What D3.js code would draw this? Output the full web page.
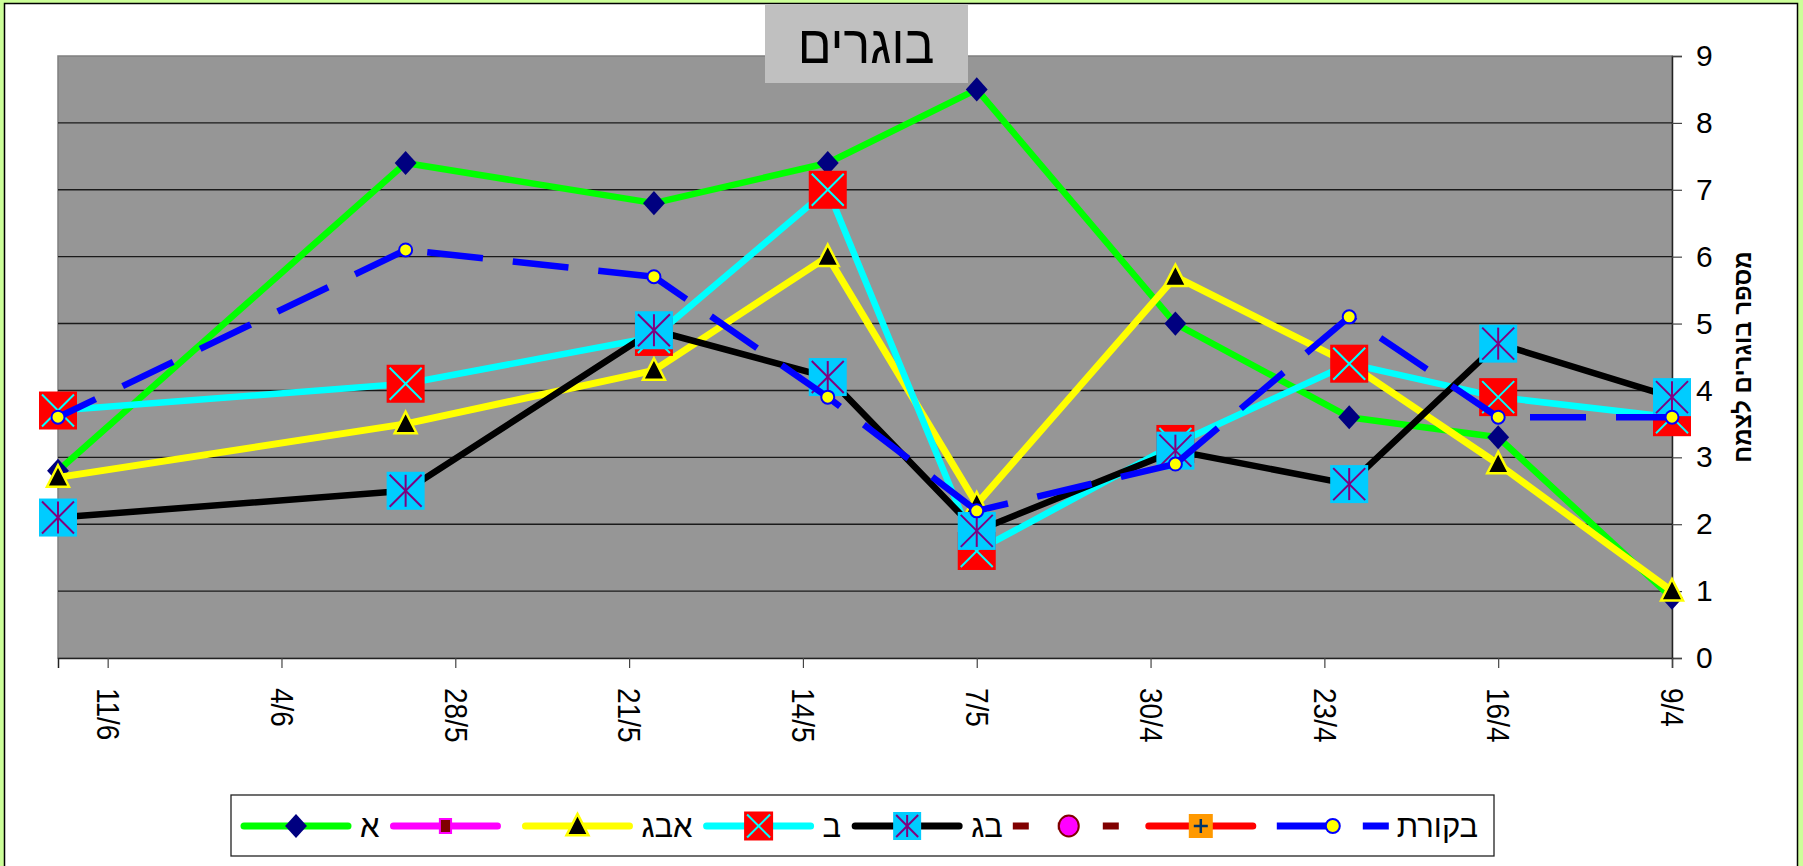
<!DOCTYPE html>
<html>
<head>
<meta charset="utf-8">
<script src="https://cdn.jsdelivr.net/npm/d3@7"></script>
<style>
  body { margin: 0; background: #ccff99; overflow: hidden; }
  svg { display: block; font-family: "Liberation Sans", Arial, sans-serif; }
</style>
</head>
<body>
<div id="chart"></div>
<script>
// sampling dates (earliest first) and the weekly axis ticks
const dates = ["9/4", "16/4", "22/4", "29/4", "7/5", "13/5", "20/5", "30/5", "13/6"];
const tickLabels = ["9/4", "16/4", "23/4", "30/4", "7/5", "14/5", "21/5", "28/5", "4/6", "11/6"];
const axisStart = "9/4", axisEnd = "13/6";

const seriesNames = ["א", "", "אבג", "ב", "בג", "", "", "בקורת"];
const valsA      = [0.9, 3.3, 3.6, 5.0, 8.5, 7.4, 6.8, 7.4, 2.8];
const valsEmpty1 = [];
const valsABG    = [1.0, 2.9, 4.4, 5.7, 2.3, 6.0, 4.3, 3.5, 2.7];
const valsB      = [3.6, 3.9, 4.4, 3.2, 1.6, 7.0, 4.8, 4.1, 3.7];
const valsBG     = [3.9, 4.7, 2.6, 3.1, 1.9, 4.2, 4.9, 2.5, 2.1];
const valsEmpty2 = [];
const valsEmpty3 = [];
const valsControl = [3.6, 3.6, 5.1, 2.9, 2.2, 3.9, 5.7, 6.1, 3.6];

const title = "בוגרים";
const yTitle = "מספר בוגרים לצמח";

const W = 1803, H = 866;
const plot = { left: 58, right: 1672, top: 56, bottom: 658 };

const parseDate = s => d3.timeParse("%d/%m/%Y")(s + "/2008");

const series = [
  { name: seriesNames[0], values: valsA,      color: "#00ff00", marker: "diamond" },
  { name: seriesNames[1], values: valsEmpty1, color: "#ff00ff", marker: "square" },
  { name: seriesNames[2], values: valsABG,    color: "#ffff00", marker: "triangle", width: 7 },
  { name: seriesNames[3], values: valsB,      color: "#00ffff", marker: "xbox" },
  { name: seriesNames[4], values: valsBG,     color: "#000000", marker: "starbox" },
  { name: seriesNames[5], values: valsEmpty2, color: "#800000", marker: "circle", dash: "16,29" },
  { name: seriesNames[6], values: valsEmpty3, color: "#ff0000", marker: "plus" },
  { name: seriesNames[7], values: valsControl, color: "#0000ff", marker: "dot", dash: "56,30" }
];

const svg = d3.select("#chart").append("svg")
    .attr("width", W)
    .attr("height", H);

// chart frame
svg.append("rect")
    .attr("x", 4.5).attr("y", 3.5)
    .attr("width", 1793).attr("height", H + 10)
    .attr("fill", "#fff").attr("stroke", "#000").attr("stroke-width", 1.5);

const x = d3.scaleTime()
    .domain([parseDate(axisStart), parseDate(axisEnd)])
    .range([plot.right, plot.left]);

const y = d3.scaleLinear()
    .domain([0, 9])
    .range([plot.bottom, plot.top]);

svg.append("rect")
    .attr("x", plot.left).attr("y", plot.top)
    .attr("width", plot.right - plot.left).attr("height", plot.bottom - plot.top)
    .attr("fill", "#969696").attr("stroke", "#808080").attr("stroke-width", 1.5);

// gridlines
svg.append("g")
    .selectAll("line")
    .data(y.ticks(9).filter(v => v > 0 && v < 9))
    .join("line")
    .attr("x1", plot.left).attr("x2", plot.right)
    .attr("y1", d => y(d)).attr("y2", d => y(d))
    .attr("stroke", "#1a1a1a").attr("stroke-width", 1.4);

// right value axis
const yAxis = svg.append("g")
    .attr("transform", "translate(" + plot.right + ",0)")
    .call(d3.axisRight(y).ticks(9).tickSize(10).tickPadding(14));
yAxis.select(".domain").attr("stroke", "#222").attr("stroke-width", 1.5);
yAxis.selectAll(".tick line").attr("stroke", "#444").attr("stroke-width", 1.2);
yAxis.selectAll("text").attr("font-size", 30).attr("fill", "#000")
    .attr("font-family", "Liberation Sans, Arial, sans-serif");

// date axis (runs right to left)
const xAxis = svg.append("g")
    .attr("transform", "translate(0," + plot.bottom + ")")
    .call(d3.axisBottom(x)
        .tickValues(tickLabels.map(parseDate))
        .tickFormat(d3.timeFormat("%-d/%-m"))
        .tickSize(10));
xAxis.select(".domain").attr("stroke", "#222").attr("stroke-width", 1.5);
xAxis.selectAll(".tick line").attr("stroke", "#444").attr("stroke-width", 1.2);
xAxis.selectAll("text")
    .attr("font-size", 28).attr("fill", "#000")
    .attr("font-family", "Liberation Sans, Arial, sans-serif")
    .attr("text-anchor", "start")
    .attr("y", 0).attr("dy", "0.35em")
    .attr("transform", "translate(0,30) rotate(90) scale(1,1.15)");

function marker(g, type, s) {
  const h = s / 2;
  if (type === "diamond") {
    g.append("path").attr("d", `M0,${-h * 1.05}L${h * 0.95},0L0,${h * 1.05}L${-h * 0.95},0Z`)
        .attr("fill", "#000080");
  } else if (type === "triangle") {
    g.append("path").attr("d", `M0,${-h * 1.1}L${h},${h * 0.85}L${-h},${h * 0.85}Z`)
        .attr("fill", "#000").attr("stroke", "#ffff00").attr("stroke-width", 2.5)
        .attr("stroke-linejoin", "miter");
  } else if (type === "xbox" || type === "starbox") {
    g.append("rect").attr("x", -h).attr("y", -h).attr("width", s).attr("height", s)
        .attr("fill", type === "xbox" ? "#ff0000" : "#00ccff");
    const c = type === "xbox" ? "#00ffff" : "#800080", k = h - 3;
    const segs = [[-k, -k, k, k], [k, -k, -k, k]];
    if (type === "starbox") segs.push([0, -k, 0, k]);
    segs.forEach(p => g.append("line")
        .attr("x1", p[0]).attr("y1", p[1]).attr("x2", p[2]).attr("y2", p[3])
        .attr("stroke", c).attr("stroke-width", 2));
  } else if (type === "dot") {
    g.append("circle").attr("r", h).attr("fill", "#ffff00")
        .attr("stroke", "#0000ff").attr("stroke-width", 2);
  } else if (type === "square") {
    g.append("rect").attr("x", -h * 0.8).attr("y", -h).attr("width", s * 0.8).attr("height", s)
        .attr("fill", "#800000").attr("stroke", "#ff00ff").attr("stroke-width", 2);
  } else if (type === "circle") {
    g.append("ellipse").attr("rx", h * 0.95).attr("ry", h).attr("fill", "#ff00ff")
        .attr("stroke", "#800000").attr("stroke-width", 2);
  } else if (type === "plus") {
    g.append("rect").attr("x", -h).attr("y", -h).attr("width", s).attr("height", s)
        .attr("fill", "#ff9900");
    g.append("path").attr("d", `M0,${-h + 5}V${h - 5}M${-h + 5},0H${h - 5}`)
        .attr("stroke", "#003366").attr("stroke-width", 2.5);
  }
}

const chartSize = { diamond: 23, triangle: 22, xbox: 38, starbox: 38, dot: 13, square: 14, circle: 20, plus: 24 };
const legendSize = { diamond: 23, triangle: 22, xbox: 29, starbox: 28, dot: 14, square: 14, circle: 21, plus: 24 };

const lineGen = d3.line().x(d => x(d.date)).y(d => y(d.v));

series.forEach(s => {
  const pts = s.values.map((v, i) => ({ date: parseDate(dates[i]), v: v }));
  if (!pts.length) return;
  const g = svg.append("g");
  if (s.dash) {
    // dash pattern restarts on each segment, like the original
    d3.pairs(pts).forEach(p => {
      g.append("path").attr("d", lineGen(p))
          .attr("fill", "none").attr("stroke", s.color)
          .attr("stroke-width", s.width || 6.5)
          .attr("stroke-dasharray", s.dash);
    });
  } else {
    g.append("path").attr("d", lineGen(pts))
        .attr("fill", "none").attr("stroke", s.color)
        .attr("stroke-width", s.width || 6.5)
        .attr("stroke-linejoin", "round");
  }
  pts.forEach(p => {
    const m = g.append("g").attr("transform", "translate(" + x(p.date) + "," + y(p.v) + ")");
    marker(m, s.marker, chartSize[s.marker]);
  });
});

// title box
svg.append("rect")
    .attr("x", 765).attr("y", 4).attr("width", 203).attr("height", 79)
    .attr("fill", "#c0c0c0");
svg.append("text")
    .attr("transform", "translate(866,63) scale(1,1.08)")
    .attr("text-anchor", "middle")
    .attr("font-size", 50)
    .attr("fill", "#000")
    .text(title);

// value axis title
svg.append("text")
    .attr("transform", "translate(1743," + (plot.top + plot.bottom) / 2 + ") rotate(-90)")
    .attr("text-anchor", "middle")
    .attr("dy", "0.35em")
    .attr("font-size", 24)
    .attr("font-weight", "bold")
    .attr("direction", "rtl")
    .text(yTitle);

// legend
const legend = svg.append("g");
legend.append("rect")
    .attr("x", 231).attr("y", 795).attr("width", 1263).attr("height", 61)
    .attr("fill", "#fff").attr("stroke", "#222").attr("stroke-width", 1.3);

let lx = 240;
const ly = 826;
series.forEach(s => {
  const item = legend.append("g");
  item.append("line")
      .attr("x1", lx + (s.dash ? 0 : 4)).attr("x2", lx + (s.dash ? 112 : 108))
      .attr("y1", ly).attr("y2", ly)
      .attr("stroke", s.color).attr("stroke-width", 7)
      .attr("stroke-linecap", s.dash ? "butt" : "round")
      .attr("stroke-dasharray", s.dash || null);
  marker(item.append("g").attr("transform", "translate(" + (lx + 56) + "," + ly + ")"),
      s.marker, legendSize[s.marker]);
  lx += 112;
  if (s.name) {
    const t = item.append("text")
        .attr("x", lx + 8).attr("y", ly + 11)
        .attr("font-size", 31)
        .attr("fill", "#000")
        .text(s.name);
    lx += 8 + t.node().getComputedTextLength() + 10;
  } else {
    lx += 20;
  }
});
</script>
</body>
</html>
